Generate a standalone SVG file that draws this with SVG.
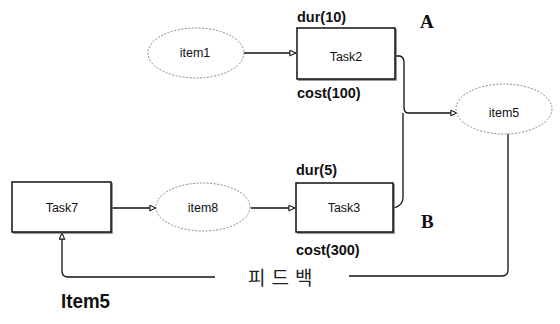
<svg xmlns="http://www.w3.org/2000/svg" width="560" height="324" viewBox="0 0 560 324">
<defs>
<marker id="tri" viewBox="0 0 8 8" refX="7.5" refY="4" markerWidth="7" markerHeight="7" orient="auto" markerUnits="userSpaceOnUse">
<path d="M0.5,1 L7.5,4 L0.5,7 Z" fill="#fff" stroke="#111" stroke-width="1.2"/>
</marker>
<style>
.box{fill:#fff;stroke:#111;stroke-width:1.5}
.shadow{fill:none;stroke:#777;stroke-width:1.5}
.ell{fill:#fff;stroke:#888;stroke-width:1;stroke-dasharray:2,1.5}
.lbl{font-family:"Liberation Sans",Arial,sans-serif;font-size:12.5px;fill:#111;text-anchor:middle}
.bold{font-family:"Liberation Sans",Arial,sans-serif;font-size:14.5px;font-weight:bold;fill:#111}
.big{font-family:"Liberation Serif","Times New Roman",serif;font-size:19px;font-weight:bold;fill:#111}
.con{fill:none;stroke:#111;stroke-width:1.3}
</style>
</defs>
<rect width="560" height="324" fill="#fff"/>
<g id="connectors">
<path class="con" d="M244,53 H296" marker-end="url(#tri)"/>
<path class="con" d="M111,208 H156" marker-end="url(#tri)"/>
<path class="con" d="M251,208 H295" marker-end="url(#tri)"/>
<path class="con" d="M395,56 H400 Q404,57 404,63 V107 Q404,113 408,113 H457" marker-end="url(#tri)"/>
<path class="con" d="M394,208 Q403,205 403,198 V113"/>
<path class="con" d="M508,134 V270 Q508,276 502,276 H349"/>
<path class="con" d="M215,277 H68 Q62,277 62,271 V233" marker-end="url(#tri)"/>
</g>
<g id="item1">
<ellipse class="ell" cx="196" cy="53" rx="48" ry="25"/>
<text class="lbl" x="195" y="57">item1</text>
</g>
<g id="task2">
<path class="shadow" d="M396,29 V80 H298"/>
<rect class="box" x="297" y="28" width="98" height="51"/>
<text class="lbl" x="346" y="61">Task2</text>
<text class="bold" x="297" y="22">dur(10)</text>
<text class="bold" x="297" y="98">cost(100)</text>
</g>
<g id="item5">
<ellipse class="ell" cx="504" cy="109" rx="48" ry="25"/>
<text class="lbl" x="504" y="117">item5</text>
</g>
<g id="task7">
<path class="shadow" d="M112,183 V233 H13"/>
<rect class="box" x="12" y="182" width="99" height="50"/>
<text class="lbl" x="62" y="212">Task7</text>
</g>
<g id="item8">
<ellipse class="ell" cx="203" cy="207" rx="47" ry="24"/>
<text class="lbl" x="203" y="212">item8</text>
</g>
<g id="task3">
<path class="shadow" d="M394,184 V233 H297"/>
<rect class="box" x="296" y="183" width="97" height="49"/>
<text class="lbl" x="344" y="212">Task3</text>
<text class="bold" x="296" y="175">dur(5)</text>
<text class="bold" x="296" y="255">cost(300)</text>
</g>
<text class="big" x="420" y="28">A</text>
<text class="big" x="421" y="228">B</text>
<text x="248" y="285" font-family="'Noto Sans CJK KR',sans-serif" font-size="19px" letter-spacing="6" fill="#222">피드백</text>
<text x="61" y="308" font-family="'Liberation Sans',Arial,sans-serif" font-size="21px" font-weight="bold" fill="#111" textLength="49" lengthAdjust="spacingAndGlyphs">Item5</text>
</svg>
